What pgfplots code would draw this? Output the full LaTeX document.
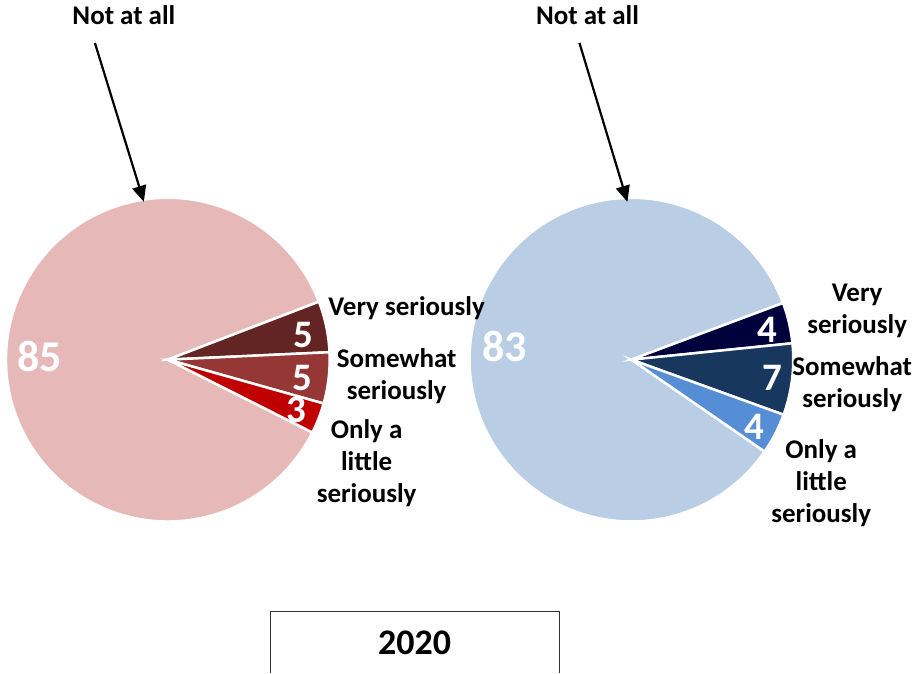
\documentclass[border=0pt]{standalone}
\usepackage{pgfplots}
\pgfplotsset{compat=1.18}
\usepackage{fontspec}
\setmainfont{Carlito}
\usetikzlibrary{arrows.meta}
\definecolor{lpink}{HTML}{E6B9B8}
\definecolor{lv1}{HTML}{632523}
\definecolor{lv2}{HTML}{953735}
\definecolor{lv3}{HTML}{C00000}
\definecolor{rblue}{HTML}{B9CDE5}
\definecolor{rv1}{HTML}{00003C}
\definecolor{rv2}{HTML}{17375E}
\definecolor{rv3}{HTML}{558ED5}
\newcommand\slice[5]{\filldraw[overlay,fill=#5,draw=white,line width=2.5bp] (axis cs:#1,#2) -- ([shift={(#3:162bp)}]axis cs:#1,#2) arc[start angle=#3,end angle=#4,radius=162bp] -- cycle;}
% data (percent): Very, Somewhat, Only a little, Not at all
\def\LA{5}\def\LB{5}\def\LC{3}\def\LD{85}
\def\RA{4}\def\RB{7}\def\RC{4}\def\RD{83}
\pgfmathsetmacro\LT{\LA+\LB+\LC+\LD}
\pgfmathsetmacro\La{21}
\pgfmathsetmacro\Lb{\La-\LA/\LT*360}
\pgfmathsetmacro\Lc{\Lb-\LB/\LT*360}
\pgfmathsetmacro\Ld{\Lc-\LC/\LT*360}
\pgfmathsetmacro\Le{\Ld-\LD/\LT*360}
\pgfmathsetmacro\RT{\RA+\RB+\RC+\RD}
\pgfmathsetmacro\Ra{20.5}
\pgfmathsetmacro\Rb{\Ra-\RA/\RT*360}
\pgfmathsetmacro\Rc{\Rb-\RB/\RT*360}
\pgfmathsetmacro\Rd{\Rc-\RC/\RT*360}
\pgfmathsetmacro\Re{\Rd-\RD/\RT*360}
\begin{document}
\begin{tikzpicture}
\begin{axis}[x=1bp,y=1bp,xmin=0,xmax=912,ymin=0,ymax=674,
  hide axis,clip=false,scale only axis,
  every node/.style={font=\bfseries,overlay}]
\path (axis cs:0,0) rectangle (axis cs:912,674);
\slice{168}{314}{\Ld}{\Le}{lpink}
\slice{168}{314}{\La}{\Lb}{lv1}
\slice{168}{314}{\Lb}{\Lc}{lv2}
\slice{168}{314}{\Lc}{\Ld}{lv3}
\slice{632}{314}{\Rd}{\Re}{rblue}
\slice{632}{314}{\Ra}{\Rb}{rv1}
\slice{632}{314}{\Rb}{\Rc}{rv2}
\slice{632}{314}{\Rc}{\Rd}{rv3}
% value labels
\node[white,font=\fontsize{39bp}{39bp}\selectfont\bfseries,inner sep=0] at (axis cs:304,339) {\LA};
\node[white,font=\fontsize{39bp}{39bp}\selectfont\bfseries,inner sep=0] at (axis cs:303,296) {\LB};
\node[white,font=\fontsize{39bp}{39bp}\selectfont\bfseries,inner sep=0] at (axis cs:297,264) {\LC};
\node[white,font=\fontsize{44bp}{44bp}\selectfont\bfseries,inner sep=0] at (axis cs:40,317) {\LD};
\node[white,font=\fontsize{39bp}{39bp}\selectfont\bfseries,inner sep=0] at (axis cs:768,344) {\RA};
\node[white,font=\fontsize{39bp}{39bp}\selectfont\bfseries,inner sep=0] at (axis cs:773,296) {\RB};
\node[white,font=\fontsize{39bp}{39bp}\selectfont\bfseries,inner sep=0] at (axis cs:755,247) {\RC};
\node[white,font=\fontsize{44bp}{44bp}\selectfont\bfseries,inner sep=0] at (axis cs:505,327) {\RD};
% category labels
\tikzset{lab/.style={font=\fontsize{27bp}{32bp}\selectfont\bfseries,align=center,inner sep=0}}
\node[lab] at (axis cs:407,366) {Very seriously};
\node[lab] at (axis cs:397,297) {Somewhat\\seriously};
\node[lab] at (axis cs:367,210) {Only a\\little\\seriously};
\node[lab] at (axis cs:858,363) {Very\\seriously};
\node[lab] at (axis cs:853,289) {Somewhat\\seriously};
\node[lab] at (axis cs:822,190) {Only a\\little\\seriously};
\node[lab] at (axis cs:124,659) {Not at all};
\node[lab] at (axis cs:588,659) {Not at all};
\draw[overlay,line width=2.2bp,-{Triangle[length=16bp,width=14bp]}] (axis cs:95,631) -- (axis cs:144,472);
\draw[overlay,line width=2.2bp,-{Triangle[length=16bp,width=14bp]}] (axis cs:580,631) -- (axis cs:628,472);
% year box
\draw[overlay,line width=1.2bp,black!80] (axis cs:271,0) -- (axis cs:271,62) -- (axis cs:560,62) -- (axis cs:560,0);
\node[font=\fontsize{36bp}{36bp}\selectfont\bfseries,inner sep=0] at (axis cs:415,31) {2020};
\end{axis}
\end{tikzpicture}
\end{document}
